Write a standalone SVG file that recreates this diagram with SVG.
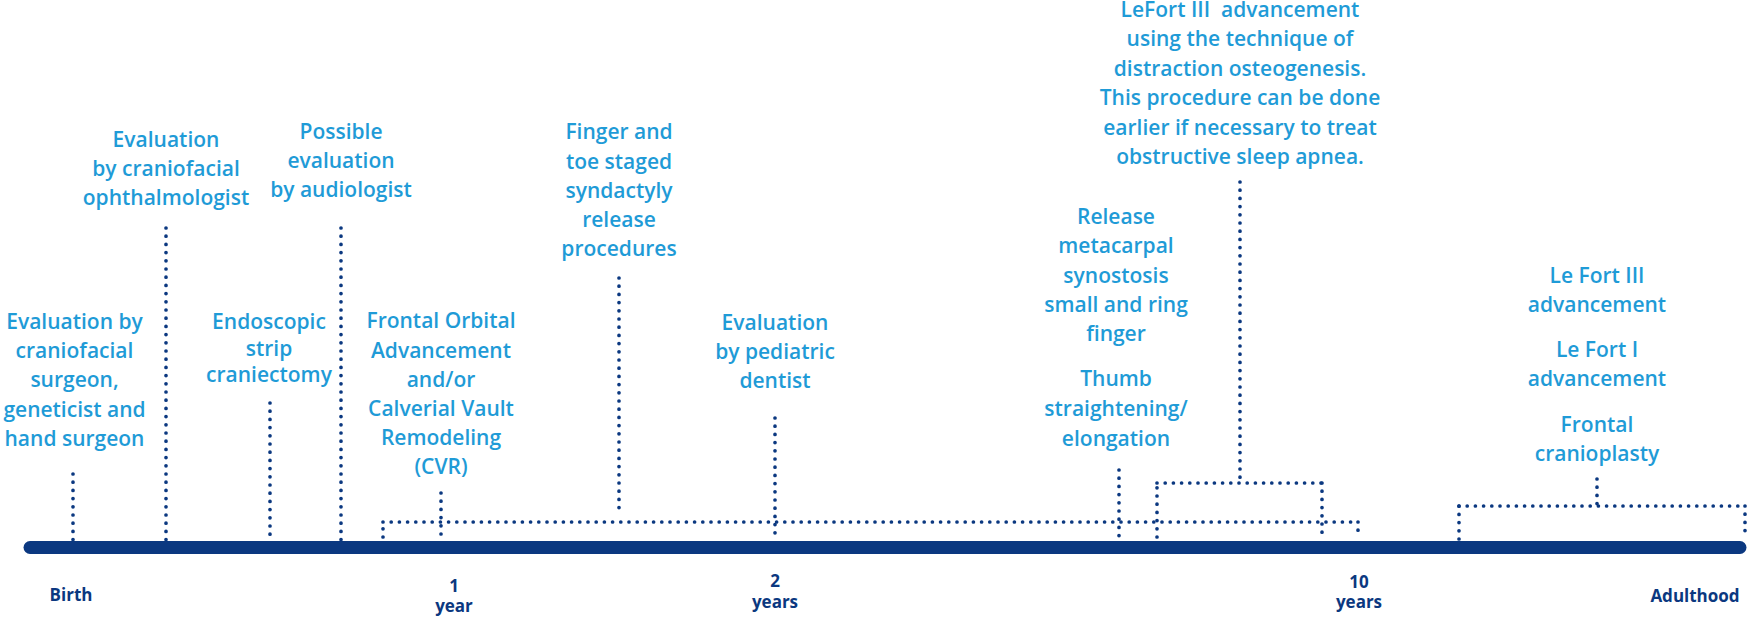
<svg xmlns="http://www.w3.org/2000/svg" width="1747" height="621" viewBox="0 0 1747 621">
<style>
.lbl{font-family:"Open Sans","Liberation Sans",sans-serif;font-weight:600;font-size:21px;fill:#1f9bd7;text-anchor:middle}
.axis{font-family:"Open Sans","Liberation Sans",sans-serif;font-weight:700;font-size:17px;fill:#0b3880;text-anchor:middle}
.dot{fill:none;stroke:#0b3880;stroke-width:3.7;stroke-linecap:round;stroke-dasharray:0 8.2}
</style>
<rect width="1747" height="621" fill="#ffffff"/>
<g id="timeline">
<line x1="30" y1="547.5" x2="1740" y2="547.5" stroke="#0b3880" stroke-width="13" stroke-linecap="round"/>
<text class="axis" x="71" y="601">Birth</text>
<text class="axis" x="454" y="592">1</text>
<text class="axis" x="454" y="612">year</text>
<text class="axis" x="775" y="587">2</text>
<text class="axis" x="775" y="608">years</text>
<text class="axis" x="1359" y="588">10</text>
<text class="axis" x="1359" y="608">years</text>
<text class="axis" x="1695" y="602">Adulthood</text>
</g>
<g id="connectors">
<path class="dot" d="M73 474V540"/>
<path class="dot" d="M166 228V540"/>
<path class="dot" d="M270 403V538"/>
<path class="dot" d="M341 228V540"/>
<path class="dot" d="M383 537V522"/>
<path class="dot" d="M383 522H1358"/>
<path class="dot" d="M1358 522V537"/>
<path class="dot" d="M441 493V540"/>
<path class="dot" d="M619 278V512"/>
<path class="dot" d="M775 418V537"/>
<path class="dot" d="M1119 470V537"/>
<path class="dot" d="M1157 537V483"/>
<path class="dot" d="M1157 483H1322"/>
<path class="dot" d="M1322 483V537"/>
<path class="dot" d="M1240 182V483"/>
<path class="dot" d="M1459 539V506"/>
<path class="dot" d="M1459 506H1745"/>
<path class="dot" d="M1745 506V537"/>
<path class="dot" d="M1597 479V506"/>
</g>
<g id="node-birth-eval">
<text class="lbl" x="74.5" y="329">Evaluation by</text>
<text class="lbl" x="74.5" y="358.2">craniofacial</text>
<text class="lbl" x="74.5" y="387.4">surgeon,</text>
<text class="lbl" x="74.5" y="416.6">geneticist and</text>
<text class="lbl" x="74.5" y="445.8">hand surgeon</text>
</g>
<g id="node-ophthalmologist">
<text class="lbl" x="166" y="147">Evaluation</text>
<text class="lbl" x="166" y="176.2">by craniofacial</text>
<text class="lbl" x="166" y="205.4">ophthalmologist</text>
</g>
<g id="node-endoscopic">
<text class="lbl" x="269" y="329">Endoscopic</text>
<text class="lbl" x="269" y="355.5">strip</text>
<text class="lbl" x="269" y="382">craniectomy</text>
</g>
<g id="node-audiologist">
<text class="lbl" x="341" y="139">Possible</text>
<text class="lbl" x="341" y="168.2">evaluation</text>
<text class="lbl" x="341" y="197.4">by audiologist</text>
</g>
<g id="node-fronto-orbital">
<text class="lbl" x="441" y="328.3">Frontal Orbital</text>
<text class="lbl" x="441" y="357.5">Advancement</text>
<text class="lbl" x="441" y="386.7">and/or</text>
<text class="lbl" x="441" y="415.9">Calverial Vault</text>
<text class="lbl" x="441" y="445.1">Remodeling</text>
<text class="lbl" x="441" y="474.3">(CVR)</text>
</g>
<g id="node-syndactyly">
<text class="lbl" x="619" y="139.3">Finger and</text>
<text class="lbl" x="619" y="168.5">toe staged</text>
<text class="lbl" x="619" y="197.7">syndactyly</text>
<text class="lbl" x="619" y="226.9">release</text>
<text class="lbl" x="619" y="256.1">procedures</text>
</g>
<g id="node-dentist">
<text class="lbl" x="775" y="330">Evaluation</text>
<text class="lbl" x="775" y="359.2">by pediatric</text>
<text class="lbl" x="775" y="388.4">dentist</text>
</g>
<g id="node-hand">
<text class="lbl" x="1116" y="223.8">Release</text>
<text class="lbl" x="1116" y="253.2">metacarpal</text>
<text class="lbl" x="1116" y="282.6">synostosis</text>
<text class="lbl" x="1116" y="312">small and ring</text>
<text class="lbl" x="1116" y="341.4">finger</text>
<text class="lbl" x="1116" y="386.1">Thumb</text>
<text class="lbl" x="1116" y="415.8">straightening/</text>
<text class="lbl" x="1116" y="445.5">elongation</text>
</g>
<g id="node-lefort-distraction">
<text class="lbl" x="1240" y="17" style="white-space:pre">LeFort III  advancement</text>
<text class="lbl" x="1240" y="46.4">using the technique of</text>
<text class="lbl" x="1240" y="75.8">distraction osteogenesis.</text>
<text class="lbl" x="1240" y="105.2">This procedure can be done</text>
<text class="lbl" x="1240" y="134.6">earlier if necessary to treat</text>
<text class="lbl" x="1240" y="164">obstructive sleep apnea.</text>
</g>
<g id="node-adulthood">
<text class="lbl" x="1597" y="282.7">Le Fort III</text>
<text class="lbl" x="1597" y="311.7">advancement</text>
<text class="lbl" x="1597" y="357.3">Le Fort I</text>
<text class="lbl" x="1597" y="385.7">advancement</text>
<text class="lbl" x="1597" y="432.3">Frontal</text>
<text class="lbl" x="1597" y="460.7">cranioplasty</text>
</g>
</svg>
